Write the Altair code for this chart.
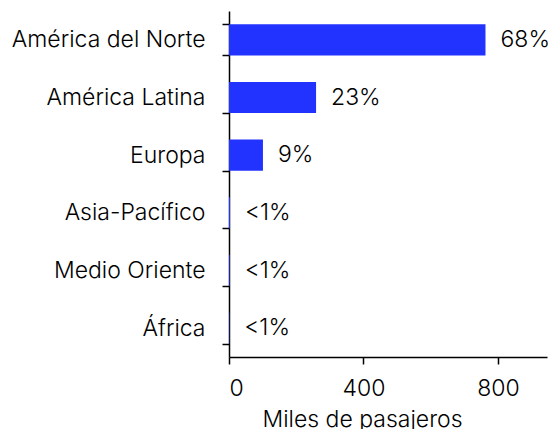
import altair as alt
import pandas as pd

regions = ["América del Norte", "América Latina", "Europa", "Asia-Pacífico", "Medio Oriente", "África"]
passengers = [763, 259, 101, 3, 2, 1]
share_labels = ["68%", "23%", "9%", "<1%", "<1%", "<1%"]
x_ticks = [0, 400, 800]

df = pd.DataFrame({"region": regions, "value": passengers, "label": share_labels})

FONT = "Inter"
FSIZE = 23
FWEIGHT = 300
BLUE = "#2233ff"

y_enc = alt.Y(
    "region:N",
    sort=regions,
    title=None,
    scale=alt.Scale(paddingInner=0.46, paddingOuter=0.23),
    axis=alt.Axis(
        tickBand="extent",
        domainColor="black",
        domainWidth=1.5,
        tickColor="black",
        tickWidth=1.5,
        tickSize=7,
        labelFont=FONT,
        labelFontSize=FSIZE,
        labelFontWeight=FWEIGHT,
        labelColor="black",
        labelPadding=17,
        labelLimit=0,
        grid=False,
    ),
)

x_enc = alt.X(
    "value:Q",
    scale=alt.Scale(domain=[0, 946], nice=False),
    axis=alt.Axis(
        values=x_ticks,
        title="Miles de pasajeros",
        titleFont=FONT,
        titleFontSize=FSIZE,
        titleFontWeight=FWEIGHT,
        titleColor="black",
        titleX=133,
        titleY=69,
        titleAlign="center",
        titleBaseline="alphabetic",
        domainColor="black",
        domainWidth=1.5,
        tickColor="black",
        tickWidth=1.5,
        tickSize=7,
        labelFont=FONT,
        labelFontSize=FSIZE,
        labelFontWeight=FWEIGHT,
        labelColor="black",
        labelPadding=13,
        grid=False,
    ),
)

bars = alt.Chart(df).mark_bar(color=BLUE).encode(x=x_enc, y=y_enc)

texts = alt.Chart(df).mark_text(
    align="left", baseline="middle", dx=15, font=FONT, fontSize=FSIZE,
    fontWeight=FWEIGHT, color="black"
).encode(
    x=alt.X("value:Q"),
    y=alt.Y("region:N", sort=regions),
    text="label:N",
)

chart = (
    alt.layer(bars, texts)
    .properties(
        width=318,
        height=346,
        autosize=alt.AutoSizeParams(type="none"),
        padding={"left": 221, "top": 3, "right": 2, "bottom": 72},
        background="white",
    )
    .configure_view(stroke=None)
)

chart.save("out.html", embed_options={"renderer": "svg", "actions": False})
